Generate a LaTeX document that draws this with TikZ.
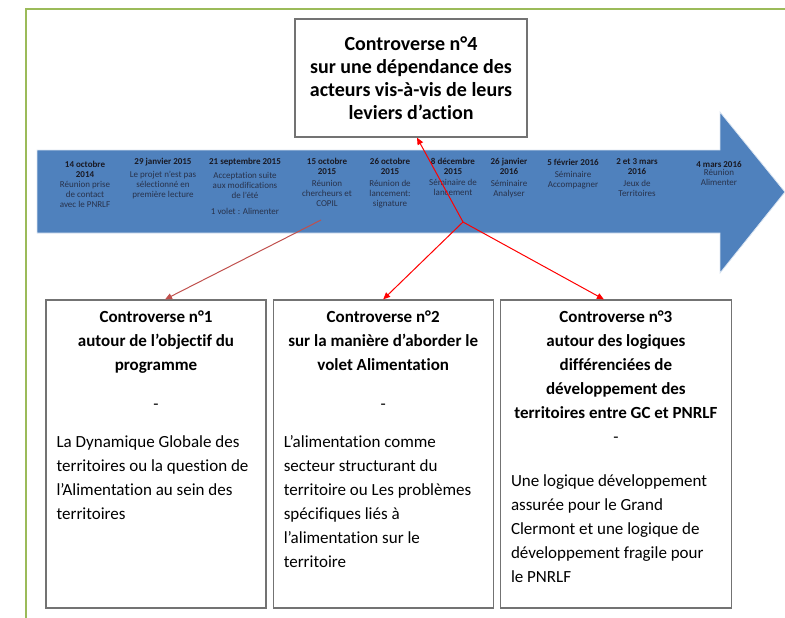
\documentclass[tikz,border=0pt]{standalone}
\usepackage{fontspec}
\setmainfont{Carlito}[Ligatures=NoCommon]
\usepackage{xcolor}
\usepackage{tikz}
\usetikzlibrary{arrows.meta, positioning, calc}

\definecolor{timeblue}{RGB}{79,129,189}
\definecolor{framegreen}{RGB}{155,187,89}
\definecolor{darkred}{RGB}{192,80,77}
\definecolor{datetext}{RGB}{25,25,35}
\definecolor{evttext}{RGB}{40,50,75}

\begin{document}
\begin{tikzpicture}[
	  x=1pt, y=-1pt,
	  node distance=7pt and 6pt,
	  cbox/.style={
	    draw=black!55,
	    line width=1.2pt,
	    minimum width=220pt,
	    minimum height=308pt,
	    inner sep=0pt
	  },
	  topbox/.style={cbox,minimum width=232pt,minimum height=118pt,align=center,font=\fontsize{20}{23}\selectfont\bfseries},
	  titletext/.style={align=center,inner sep=0pt,font=\fontsize{17}{24}\selectfont\bfseries},
	  bodytext/.style={align=left,inner sep=0pt,font=\fontsize{17}{24}\selectfont},
	  evtdate/.style={align=center,inner sep=0pt,anchor=north,text=datetext,font=\fontsize{9}{10}\selectfont\bfseries},
	  evtnote/.style={align=center,inner sep=0pt,text=evttext,font=\fontsize{9}{10}\selectfont},
	  timeline/.style={fill=timeblue,draw=white!80!timeblue,line width=0.8pt},
	  arrow/.style={-{Triangle[length=7pt,width=6pt]},line width=1pt,red},
	  darkarrow/.style={arrow,darkred}
	]
	\useasboundingbox (0,0) rectangle (785,618);
	
	% frame and time arrow
	\draw[framegreen,line width=1.2pt] (26,618) |- (785,9);
	\draw[timeline] (37,150) -- (720,150) -- (720,112) -- (785,192) -- (720,273) -- (720,233) -- (37,233) -- cycle;
	
	\foreach \px/\py/\dt/\sep/\txt [count=\n] in {85/161/{14 octobre\\2014}/3pt/{Réunion prise\\de contact\\avec le PNRLF}, 163/158/{29 janvier 2015}/5pt/{Le projet n’est pas\\sélectionné en\\première lecture}, 245/158/{21 septembre 2015}/6pt/{Acceptation suite\\aux modifications\\de l’été\\[6pt]1 volet : Alimenter}, 327/158/{15 octobre\\2015}/5pt/{Réunion\\chercheurs et\\COPIL}, 390/158/{26 octobre\\2015}/5pt/{Réunion de\\lancement:\\signature}, 453/158/{8 décembre\\2015}/4pt/{Séminaire de\\lancement}, 509/158/{26 janvier\\2016}/5pt/{Séminaire\\Analyser}, 573/159/{5 février 2016}/5pt/{Séminaire\\Accompagner}, 637/158/{2 et 3 mars\\2016}/6pt/{Jeux de\\Territoires}, 719/161/{4 mars 2016}/1pt/{Réunion\\Alimenter}}{
	  \node[evtdate] (d\n) at (\px,\py) {\dt};
	  \node[evtnote,below=\sep of d\n] (e\n) {\txt};
	}
	
	% controverses
	\node[topbox] (c4) at (411,78) {Controverse n°4\\sur une dépendance des\\acteurs vis-à-vis de leurs\\leviers d’action};
	
	\node[cbox] (c1) at (156,454) {};
	\node[cbox,right=of c1] (c2) {};
	\node[cbox,right=of c2,minimum width=231pt] (c3) {};
	
	\node[titletext,below=11pt of c1.north] (t1) {Controverse n°1\\autour de l’objectif du\\programme\\[15pt]\mdseries -};
	\node[titletext,below=11pt of c2.north] (t2) {Controverse n°2\\sur la manière d’aborder le\\volet Alimentation\\[15pt]\mdseries -};
	\node[titletext,below=11pt of c3.north] (t3) {Controverse n°3\\autour des logiques\\différenciées de\\développement des\\territoires entre GC et PNRLF\\\mdseries -};
	
	\node[bodytext,below right=136pt and 11pt of c1.north west] (b1) {La Dynamique Globale des\\territoires ou la question de\\l’Alimentation au sein des\\territoires};
	\node[bodytext,below right=136pt and 11pt of c2.north west] (b2) {L’alimentation comme\\secteur structurant du\\territoire ou Les problèmes\\spécifiques liés à\\l’alimentation sur le\\territoire};
	\node[bodytext,below right=175pt and 11pt of c3.north west] (b3) {Une logique développement\\assurée pour le Grand\\Clermont et une logique de\\développement fragile pour\\le PNRLF};
	
	% links
	\coordinate (copil) at (321,220);
	\coordinate (hub) at (463,222);
	\draw[darkarrow] (copil) -- ($(c1.north)+(9,0)$);
	\draw[arrow] (hub) -- (c2.north);
	\draw[arrow] (hub) -- ($(c3.north)+(-12,0)$);
	\draw[arrow] (hub) -- ($(c4.south)+(6,0)$);
	
\end{tikzpicture}
\end{document}
